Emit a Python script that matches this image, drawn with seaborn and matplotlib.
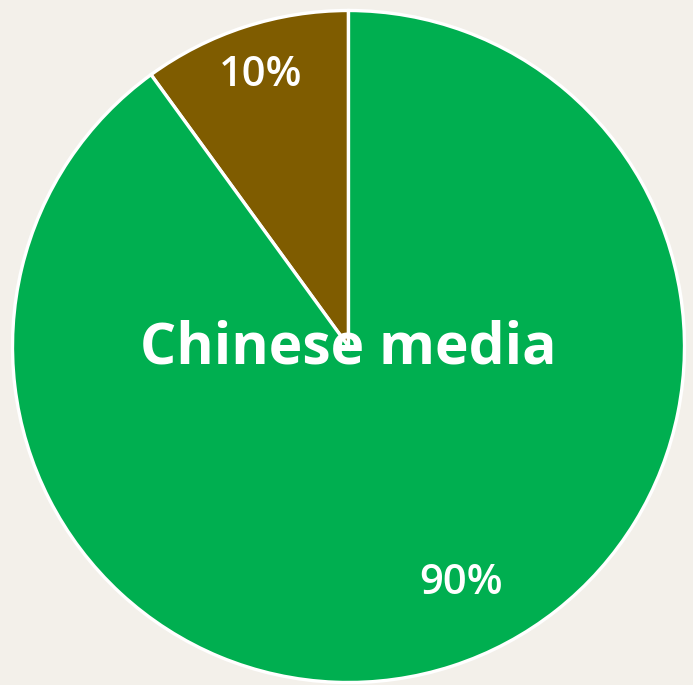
import matplotlib
matplotlib.use("Agg")
import matplotlib.pyplot as plt
import seaborn as sns
import numpy as np

categories = ["Chinese media", "Other"]
values = [90, 10]
labels_pct = ["90%", "10%"]
colors = ["#00AF50", "#7F5C00"]
bg = "#F3F0EA"

sns.set_theme(style="white")
plt.rcParams['font.family'] = ['Open Sans', 'DejaVu Sans']

W, H = 693, 685
fig = plt.figure(figsize=(W/100, H/100), dpi=100, facecolor=bg)
cx, cy, r = 348.5, 346.5, 336
ax = fig.add_axes([(cx - r)/W, (H - cy - r)/H, 2*r/W, 2*r/H])
ax.set_facecolor(bg)

# order: brown first counter-clockwise from top, then green
wedges, _ = ax.pie(values[::-1], colors=colors[::-1], startangle=90, counterclock=True,
                   wedgeprops=dict(edgecolor="white", linewidth=2.4), radius=1)
ax.set_xlim(-1.0, 1.0)
ax.set_ylim(-1.0, 1.0)
ax.set_aspect("equal")
ax.axis("off")

# label placement (distance, angle offset)
place = {"10%": (0.85, 0.0), "90%": (0.78, 7.5)}
for w, lab in zip(wedges, labels_pct[::-1]):
    mid = (w.theta1 + w.theta2) / 2
    d, off = place[lab]
    a = np.deg2rad(mid + off)
    ax.text(d*np.cos(a), d*np.sin(a), lab, ha="center", va="center",
            color="white", fontsize=30, fontweight="semibold")

ax.text(0, -0.005, categories[0], ha="center", va="center", color="white",
        fontsize=41, fontweight="bold")

fig.savefig("out.png", dpi=100, facecolor=bg)
